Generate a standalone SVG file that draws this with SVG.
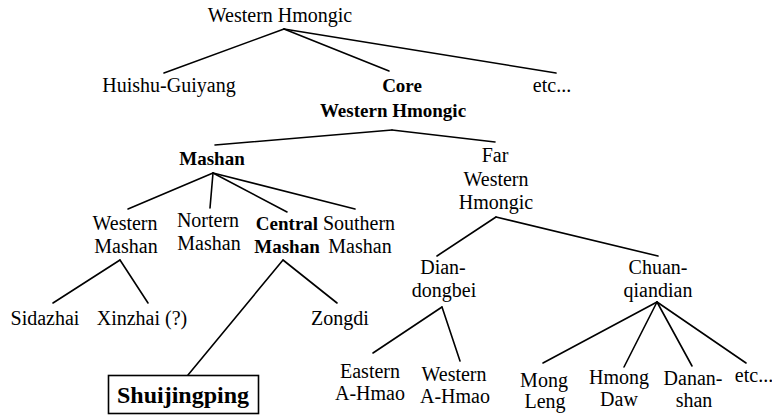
<svg xmlns="http://www.w3.org/2000/svg" width="772" height="416" viewBox="0 0 772 416">
<style>
text{font-family:"Liberation Serif","Times New Roman",serif;font-size:20px;fill:#000;text-anchor:middle}
.b{font-weight:bold;font-size:19px}
.edges line{stroke:#000;stroke-width:1.6;stroke-linecap:round}
</style>
<rect width="772" height="416" fill="#fff"/>
<g class="edges">
<line x1="284" y1="29" x2="164" y2="73"/>
<line x1="284" y1="29" x2="389" y2="71"/>
<line x1="284" y1="29" x2="556" y2="73"/>
<line x1="392" y1="130" x2="215" y2="145"/>
<line x1="392" y1="130" x2="495" y2="142"/>
<line x1="213" y1="173" x2="128" y2="209"/>
<line x1="213" y1="173" x2="210" y2="208"/>
<line x1="213" y1="173" x2="287" y2="212"/>
<line x1="213" y1="173" x2="355" y2="209"/>
<line x1="496" y1="217" x2="437" y2="256"/>
<line x1="496" y1="217" x2="658" y2="256"/>
<line x1="120" y1="260" x2="53" y2="303"/>
<line x1="120" y1="260" x2="148" y2="303"/>
<line x1="283" y1="260" x2="188" y2="375"/>
<line x1="283" y1="260" x2="337" y2="303"/>
<line x1="442" y1="307" x2="373" y2="353"/>
<line x1="442" y1="307" x2="460" y2="361"/>
<line x1="657" y1="302" x2="543" y2="363"/>
<line x1="657" y1="302" x2="624" y2="367"/>
<line x1="657" y1="302" x2="692" y2="366"/>
<line x1="657" y1="302" x2="746" y2="363"/>
</g>
<g id="western-hmongic"><text x="280" y="22">Western Hmongic</text></g>
<g id="huishu-guiyang"><text x="169" y="92">Huishu-Guiyang</text></g>
<g id="core-western-hmongic"><text class="b" x="402" y="92">Core</text><text class="b" x="393" y="117">Western Hmongic</text></g>
<g id="etc1"><text x="552" y="92">etc...</text></g>
<g id="mashan"><text class="b" x="212" y="165">Mashan</text></g>
<g id="far-western-hmongic"><text x="495" y="162">Far</text><text x="496" y="186">Western</text><text x="496" y="209">Hmongic</text></g>
<g id="western-mashan"><text x="125" y="230">Western</text><text x="126" y="253">Mashan</text></g>
<g id="nortern-mashan"><text x="208" y="227">Nortern</text><text x="209" y="250">Mashan</text></g>
<g id="central-mashan"><text class="b" x="287" y="230">Central</text><text class="b" x="287" y="253">Mashan</text></g>
<g id="southern-mashan"><text x="359" y="230">Southern</text><text x="360" y="253">Mashan</text></g>
<g id="dian-dongbei"><text x="443" y="274">Dian-</text><text x="444" y="297">dongbei</text></g>
<g id="chuan-qiandian"><text x="658" y="274">Chuan-</text><text x="658" y="297">qiandian</text></g>
<g id="sidazhai"><text x="45" y="325">Sidazhai</text></g>
<g id="xinzhai"><text x="142" y="325">Xinzhai (?)</text></g>
<g id="zongdi"><text x="340" y="325">Zongdi</text></g>
<g id="shuijingping"><rect x="108.5" y="375.5" width="150" height="38" fill="none" stroke="#000" stroke-width="1.6"/><text x="183" y="403" style="font-weight:bold;font-size:24px">Shuijingping</text></g>
<g id="eastern-a-hmao"><text x="370" y="378">Eastern</text><text x="370" y="400">A-Hmao</text></g>
<g id="western-a-hmao"><text x="454" y="381">Western</text><text x="455" y="403">A-Hmao</text></g>
<g id="mong-leng"><text x="544" y="387">Mong</text><text x="545" y="408">Leng</text></g>
<g id="hmong-daw"><text x="619" y="384">Hmong</text><text x="619" y="406">Daw</text></g>
<g id="danan-shan"><text x="693" y="385">Danan-</text><text x="694" y="407">shan</text></g>
<g id="etc2"><text x="754" y="382">etc...</text></g>
</svg>
